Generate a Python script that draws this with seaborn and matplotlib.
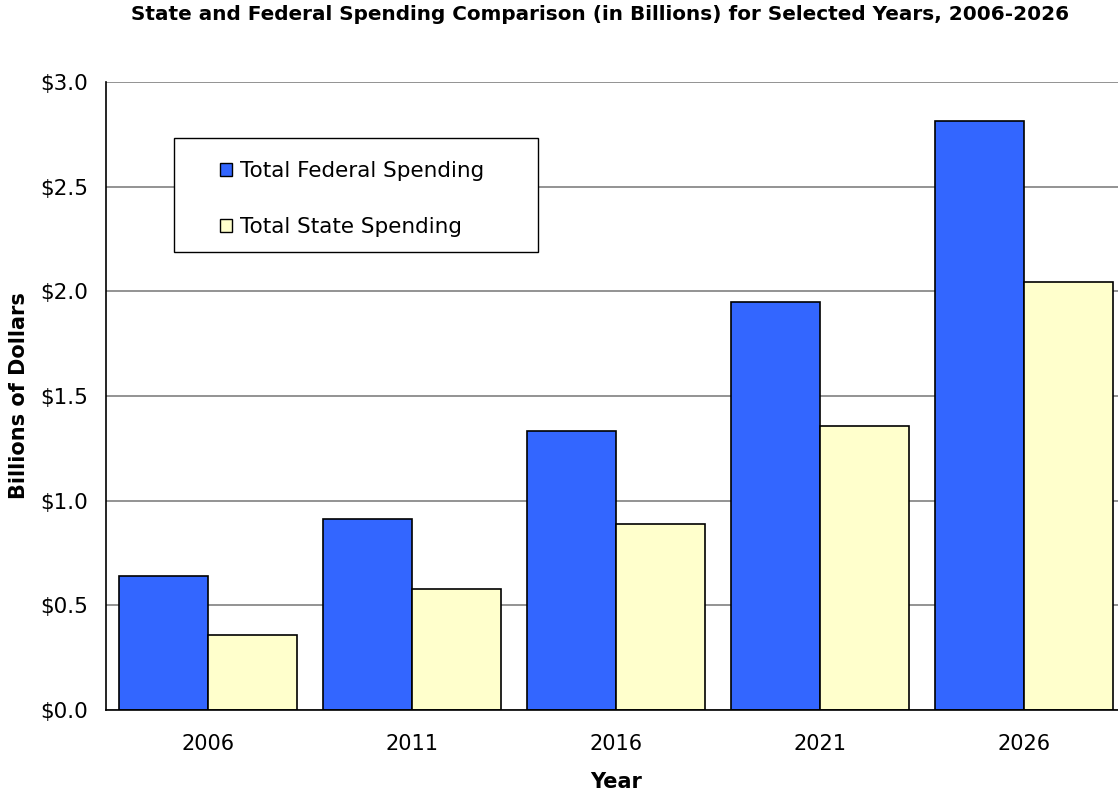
import numpy as np
import pandas as pd
import matplotlib
matplotlib.use("Agg")
import matplotlib.pyplot as plt
import seaborn as sns
from matplotlib.patches import Rectangle
from matplotlib.ticker import FuncFormatter, FixedLocator

years = ["2006", "2011", "2016", "2021", "2026"]
federal = [0.64, 0.913, 1.333, 1.949, 2.814]
state = [0.358, 0.578, 0.889, 1.357, 2.045]
series_names = ["Total Federal Spending", "Total State Spending"]
colors = ["#3366FF", "#FFFFCC"]

df = pd.DataFrame({
    "Year": years * 2,
    "Value": federal + state,
    "Series": [series_names[0]] * len(years) + [series_names[1]] * len(years),
})

sns.set_style("white")
plt.rcParams["font.family"] = ["DejaVu Sans"]
plt.rcParams["text.color"] = "black"
plt.rcParams["axes.labelcolor"] = "black"
plt.rcParams["xtick.color"] = "black"
plt.rcParams["ytick.color"] = "black"

W, H = 1118, 793
fig = plt.figure(figsize=(W / 100, H / 100), dpi=100)
ax = fig.add_axes([106 / W, 83 / H, 1020 / W, 628 / H])

sns.barplot(data=df, x="Year", y="Value", hue="Series", palette=colors,
            width=0.87, gap=0, edgecolor="black", linewidth=1.2, ax=ax,
            errorbar=None, saturation=1)

ax.set_ylim(0, 3.0)
ax.set_xlim(-0.5, len(years) - 0.5)
ax.set_yticks(np.arange(0, 3.01, 0.5))
ax.yaxis.set_major_formatter(FuncFormatter(lambda v, p: f"${v:.1f}"))
ax.yaxis.grid(True, color="#808080", linewidth=1.2)
ax.set_axisbelow(True)

ax.xaxis.set_minor_locator(FixedLocator(np.arange(-0.5, len(years), 1)))
ax.tick_params(axis="x", which="major", length=0, pad=17, labelsize=15)
ax.tick_params(axis="x", which="minor", length=6, width=1, color="black", direction="out")
ax.tick_params(axis="y", length=6, width=1, color="black", direction="out", labelsize=15.5, pad=7)

for s in ["top", "right"]:
    ax.spines[s].set_visible(False)
for s in ["left", "bottom"]:
    ax.spines[s].set_color("black")
    ax.spines[s].set_linewidth(1.2)

ax.set_xlabel("Year", fontsize=15, fontweight="bold", labelpad=13)
ax.set_ylabel("Billions of Dollars", fontsize=15, fontweight="bold", labelpad=8)

# legend box drawn separately so its padding can be wider than tall
ax.add_patch(Rectangle((174 / W, 1 - 252 / H), 364 / W, 114 / H,
                       transform=fig.transFigure, facecolor="white",
                       edgecolor="black", linewidth=1.0, zorder=5, clip_on=False))
leg = ax.legend(loc="upper left", bbox_to_anchor=(220 / W, 1 - 161 / H),
                bbox_transform=fig.transFigure,
                fontsize=15.5, frameon=False, borderpad=0, labelspacing=1.68,
                handlelength=0.56, handleheight=0.56, handletextpad=0.35,
                borderaxespad=0)
leg.set_zorder(6)
for h in leg.legend_handles:
    h.set_linewidth(1.0)

fig.text(600 / W, 1 - 14 / H, "State and Federal Spending Comparison (in Billions) for Selected Years, 2006-2026",
         ha="center", va="center", fontsize=14.4, fontweight="bold")

fig.savefig("out.png", dpi=100)
